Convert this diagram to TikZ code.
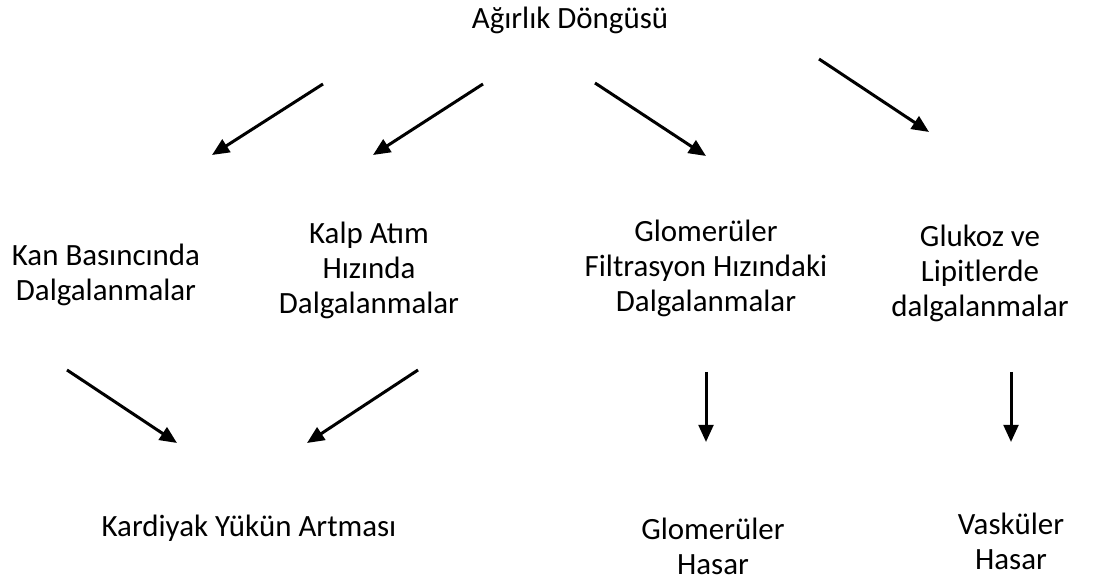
\documentclass[tikz,border=0pt]{standalone}
\usepackage{fontspec}
\setmainfont{Carlito}
\usetikzlibrary{arrows.meta}

\begin{document}
\begin{tikzpicture}[>={Triangle[length=0.43cm,width=0.37cm]},line width=0.075cm,
	lbl/.style={align=center,inner sep=0pt,anchor=base,font=\fontsize{22}{24.9}\selectfont}]

\useasboundingbox (0,0) rectangle (27.825,14.55);

% top
\node[lbl] (dongu) at (14.25,13.825) {Ağırlık Döngüsü};

% middle row (base = last line)
\node[lbl] (kan) at (2.65,7.025) {Kan Basıncında\\Dalgalanmalar};
\node[lbl] (kalp) at (9.225,6.7) {Kalp Atım\\Hızında\\Dalgalanmalar};
\node[lbl] (gfh) at (17.65,6.75) {Glomerüler\\Filtrasyon Hızındaki\\Dalgalanmalar};
\node[lbl] (gluk) at (24.5,6.625) {Glukoz ve\\Lipitlerde\\dalgalanmalar};

% bottom row
\node[lbl] (kard) at (6.225,1.125) {Kardiyak Yükün Artması};
\node[lbl] (ghasar) at (17.825,0.175) {Glomerüler\\Hasar};
\node[lbl] (vhasar) at (25.275,0.3) {Vasküler\\Hasar};

% arrow ends
\coordinate (s1) at (8.075,12.45);
\coordinate (e1) at (5.3,10.675);
\coordinate (s2) at (12.075,12.45);
\coordinate (e2) at (9.325,10.675);
\coordinate (s3) at (14.875,12.475);
\coordinate (e3) at (17.65,10.65);
\coordinate (s4) at (20.475,13.075);
\coordinate (e4) at (23.225,11.25);
\coordinate (s5) at (1.675,5.3);
\coordinate (e5) at (4.425,3.475);
\coordinate (s6) at (10.45,5.3);
\coordinate (e6) at (7.675,3.475);
\coordinate (s7) at (17.65,5.25);
\coordinate (e7) at (17.65,3.5);
\coordinate (s8) at (25.275,5.25);
\coordinate (e8) at (25.275,3.5);

\foreach \i in {1,...,8}{
	\draw[->] (s\i)--(e\i);
}

\end{tikzpicture}
\end{document}
